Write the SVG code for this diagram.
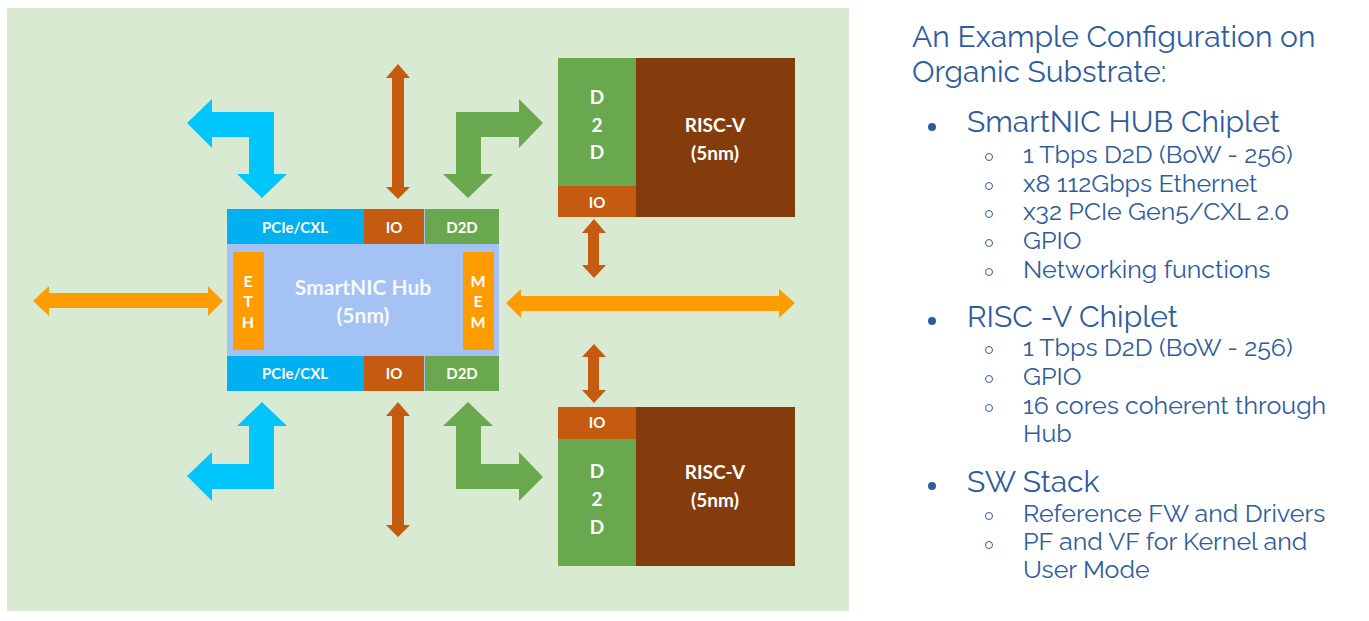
<svg xmlns="http://www.w3.org/2000/svg" width="1369" height="621" viewBox="0 0 1369 621">
<style>
.lbl{font-family:Lato,"Liberation Sans",sans-serif;font-weight:bold;fill:#ffffff;text-anchor:middle}
.s15{font-size:15px}
.s16{font-size:16px}
.s19{font-size:19px}
.s21{font-size:21px}
.hd{font-family:Raleway,"Noto Sans","Liberation Sans",sans-serif;fill:#2f5d9c;font-size:30px}
.sb{font-family:Raleway,"Noto Sans","Liberation Sans",sans-serif;fill:#2f5d9c;font-size:25px}
.blue{fill:#00c6fc}
.green{fill:#6aa84f}
.orange{fill:#ff9c00}
.brown{fill:#c55a11}
.dot{fill:#2f5d9c}
.ring{fill:none;stroke:#2f5d9c;stroke-width:1}
</style>
<rect x="0" y="0" width="1369" height="621" fill="#ffffff"/>
<rect id="substrate" x="7" y="8" width="842" height="603" fill="#d9ead3"/>

<g id="connectors">
  <polygon class="blue" points="187,123 212,99 212,112 274,112 274,174 287,174 262,198 237,174 249,174 249,137 212,137 212,148"/>
  <polygon class="blue" points="262,402 287,426 274,426 274,489 212,489 212,501 187,476 212,452 212,464 249,464 249,426 237,426"/>
  <polygon class="green" points="543,123 519,99 519,112 456,112 456,174 443,174 468,198 493,174 481,174 481,137 519,137 519,148"/>
  <polygon class="green" points="468,402 493,426 481,426 481,464 519,464 519,452 543,477 519,501 519,489 456,489 456,426 443,426"/>
  <polygon class="orange" points="33,301 49,286 49,293 208,293 208,286 223,301 208,316 208,308 49,308 49,316"/>
  <polygon class="orange" points="506,303 521,289 521,296 779,296 779,289 795,303 779,318 779,311 521,311 521,318"/>
  <polygon class="brown" points="398,64 410,78 404,78 404,187 410,187 398,199 386,187 392,187 392,78 386,78"/>
  <polygon class="brown" points="398,402 410,416 404,416 404,525 410,525 398,537 386,525 392,525 392,416 386,416"/>
  <polygon class="brown" points="594,219 606,233 599,233 599,265 606,265 594,278 582,265 588,265 588,233 582,233"/>
  <polygon class="brown" points="594,344 606,357 599,357 599,390 606,390 594,403 582,390 588,390 588,357 582,357"/>
</g>

<g id="hub">
  <rect x="227" y="209" width="272" height="182" fill="#a4c2f4"/>
  <rect x="227" y="209" width="137" height="35" fill="#00b0f0"/>
  <rect x="364" y="209" width="60" height="35" fill="#c55a11"/>
  <rect x="425" y="209" width="74" height="35" fill="#6aa84f"/>
  <rect x="227" y="356" width="137" height="35" fill="#00b0f0"/>
  <rect x="364" y="356" width="60" height="35" fill="#c55a11"/>
  <rect x="425" y="356" width="74" height="35" fill="#6aa84f"/>
  <rect x="233" y="252" width="31" height="98" fill="#ff9c00"/>
  <rect x="463" y="252" width="31" height="98" fill="#ff9c00"/>
  <text class="lbl s15" x="295" y="233">PCIe/CXL</text>
  <text class="lbl s15" x="394" y="233">IO</text>
  <text class="lbl s15" x="462" y="233">D2D</text>
  <text class="lbl s15" x="295" y="379">PCIe/CXL</text>
  <text class="lbl s15" x="394" y="379">IO</text>
  <text class="lbl s15" x="462" y="379">D2D</text>
  <text class="lbl s16" x="248" y="287">E</text>
  <text class="lbl s16" x="248" y="307">T</text>
  <text class="lbl s16" x="248" y="328">H</text>
  <text class="lbl s16" x="478" y="287">M</text>
  <text class="lbl s16" x="478" y="307">E</text>
  <text class="lbl s16" x="478" y="328">M</text>
  <text class="lbl s21" x="363" y="295" fill-opacity="0.92">SmartNIC Hub</text>
  <text class="lbl s21" x="363" y="323" fill-opacity="0.92">(5nm)</text>
</g>

<g id="riscv-top">
  <rect x="636" y="58" width="159" height="159" fill="#843c0c"/>
  <rect x="558" y="58" width="78" height="128" fill="#6aa84f"/>
  <rect x="558" y="186" width="78" height="31" fill="#c55a11"/>
  <text class="lbl s19" x="597" y="104">D</text>
  <text class="lbl s19" x="597" y="132">2</text>
  <text class="lbl s19" x="597" y="159">D</text>
  <text class="lbl s15" x="597" y="208">IO</text>
  <text class="lbl s19" x="715" y="132">RISC-V</text>
  <text class="lbl s19" x="715" y="160">(5nm)</text>
</g>

<g id="riscv-bottom">
  <rect x="636" y="407" width="159" height="159" fill="#843c0c"/>
  <rect x="558" y="407" width="78" height="32" fill="#c55a11"/>
  <rect x="558" y="439" width="78" height="127" fill="#6aa84f"/>
  <text class="lbl s15" x="597" y="428">IO</text>
  <text class="lbl s19" x="597" y="478">D</text>
  <text class="lbl s19" x="597" y="506">2</text>
  <text class="lbl s19" x="597" y="534">D</text>
  <text class="lbl s19" x="715" y="479">RISC-V</text>
  <text class="lbl s19" x="715" y="507">(5nm)</text>
</g>

<g id="description">
  <text class="hd" x="912" y="47">An Example Configuration on</text>
  <text class="hd" x="912" y="82">Organic Substrate:</text>

  <circle class="dot" cx="932" cy="127" r="4"/>
  <text class="hd" x="967" y="132">SmartNIC HUB Chiplet</text>
  <circle class="ring" cx="989" cy="157" r="3.5"/>
  <text class="sb" x="1023" y="163">1 Tbps D2D (BoW - 256)</text>
  <circle class="ring" cx="989" cy="186" r="3.5"/>
  <text class="sb" x="1023" y="192">x8 112Gbps Ethernet</text>
  <circle class="ring" cx="989" cy="214" r="3.5"/>
  <text class="sb" x="1023" y="220">x32 PCIe Gen5/CXL 2.0</text>
  <circle class="ring" cx="989" cy="243" r="3.5"/>
  <text class="sb" x="1023" y="249">GPIO</text>
  <circle class="ring" cx="989" cy="272" r="3.5"/>
  <text class="sb" x="1023" y="278">Networking functions</text>

  <circle class="dot" cx="932" cy="321" r="4"/>
  <text class="hd" x="967" y="327">RISC -V Chiplet</text>
  <circle class="ring" cx="989" cy="350" r="3.5"/>
  <text class="sb" x="1023" y="356">1 Tbps D2D (BoW - 256)</text>
  <circle class="ring" cx="989" cy="379" r="3.5"/>
  <text class="sb" x="1023" y="385">GPIO</text>
  <circle class="ring" cx="989" cy="408" r="3.5"/>
  <text class="sb" x="1023" y="414">16 cores coherent through</text>
  <text class="sb" x="1023" y="442">Hub</text>

  <circle class="dot" cx="932" cy="486" r="4"/>
  <text class="hd" x="967" y="492">SW Stack</text>
  <circle class="ring" cx="989" cy="516" r="3.5"/>
  <text class="sb" x="1023" y="522">Reference FW and Drivers</text>
  <circle class="ring" cx="989" cy="545" r="3.5"/>
  <text class="sb" x="1023" y="550">PF and VF for Kernel and</text>
  <text class="sb" x="1023" y="578">User Mode</text>
</g>
</svg>
